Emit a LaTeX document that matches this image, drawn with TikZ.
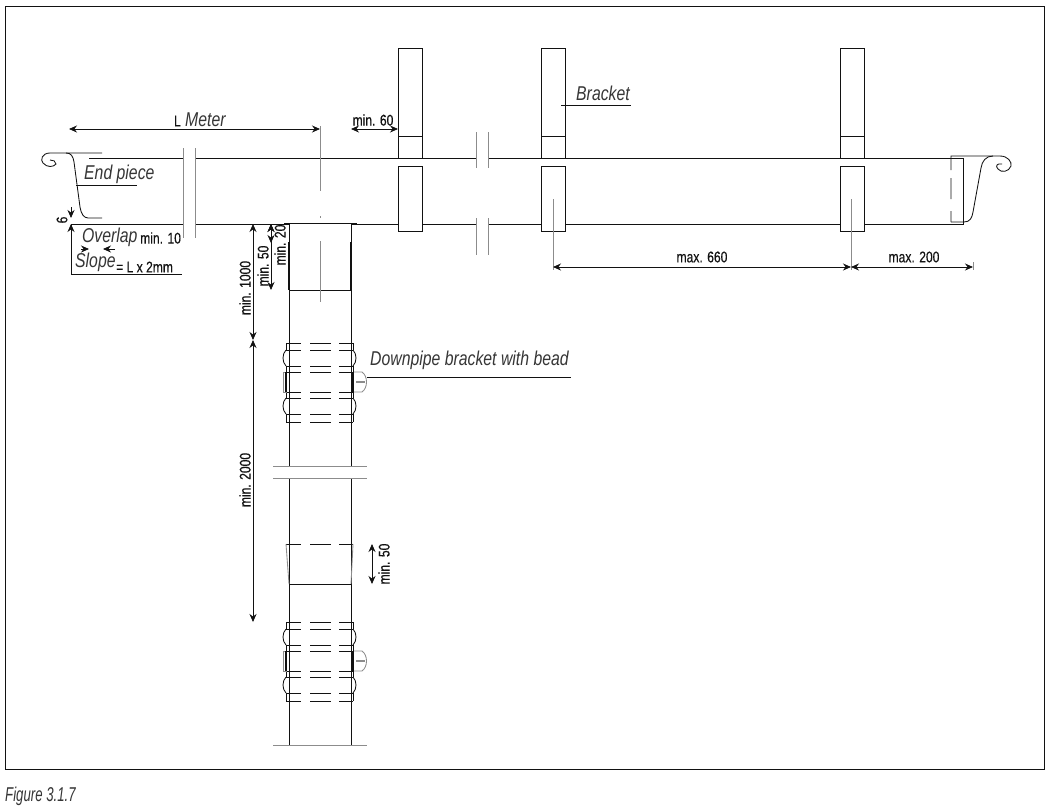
\documentclass[tikz,border=0pt]{standalone}
\usepackage{fontspec}
\setmainfont{Liberation Sans}
\newfontfamily\condup[FakeStretch=0.78,FakeBold=0.35]{Liberation Sans}
\newfontfamily\condit[FakeStretch=0.79]{Liberation Sans Italic}
\newfontfamily\capit[FakeStretch=0.66]{Liberation Sans Italic}
\usetikzlibrary{arrows.meta}
\definecolor{ink}{gray}{0.07}
\definecolor{greyline}{gray}{0.55}
\tikzset{
  bl/.style={draw=ink,line width=0.85pt},
  gl/.style={draw=greyline,line width=0.85pt},
  thk/.style={draw=ink,line width=1.6pt},
  dimline/.style={draw=ink,line width=0.85pt,{Stealth[length=8pt,width=7pt]}-{Stealth[length=8pt,width=7pt]}},
  tip/.style={draw=ink,line width=0.85pt,-{Stealth[length=8pt,width=7pt]}},
  dimtxt/.style={text=ink,inner sep=0pt,font=\condup\fontsize{15.5}{17}\selectfont},
  itatxt/.style={text=ink!85,inner sep=0pt,font=\condit\fontsize{20}{22}\selectfont},
  captxt/.style={text=ink!85,inner sep=0pt,font=\capit\fontsize{20}{22}\selectfont},
  dashband/.style={bl,dash pattern=on 15pt off 9pt on 21pt off 8pt on 15pt},
}
\newcommand{\clipband}[1]{%
  \begin{scope}[yshift=-#1pt]
    \foreach \yy in {343,350,366,372,392,398,414,422}
      \draw[dashband] (286,\yy) -- (353,\yy);
    \draw[bl] (286,343) -- (286,350) (353,343) -- (353,350)
              (286,366) -- (286,372) (353,366) -- (353,372)
              (286,392) -- (286,398) (353,392) -- (353,398)
              (286,414) -- (286,422) (353,414) -- (353,422);
    \draw[bl] (286,350) .. controls (282,354) and (282,362) .. (286,366);
    \draw[bl] (353,350) .. controls (357,354) and (357,362) .. (353,366);
    \draw[bl] (286,398) .. controls (282,402) and (282,410) .. (286,414);
    \draw[bl] (353,398) .. controls (357,402) and (357,410) .. (353,414);
    \draw[gl] (287,372) -- (283,372) -- (283,392) -- (287,392);
    \draw[thk] (286,372) -- (286,392) (353,372) -- (353,392);
    \draw[gl] (354,372) -- (362,372) .. controls (368,376) and (368,388) .. (362,392) -- (354,392);
    \draw[draw=greyline,line width=2pt] (356,382) -- (365,382);
  \end{scope}}
\begin{document}
\begin{tikzpicture}[x=1pt,y=-1pt]
\useasboundingbox (0,0) rectangle (1050,809);
\fill[white] (0,0) rectangle (1050,809);
% frame
\draw[bl] (5,6) rectangle (1044,769);
\node[captxt,anchor=west] (cap) at (5,796) {Figure 3.1.7};
% gutter
\draw[bl] (89,158) -- (183,158) (195,158) -- (476,158) (488,158) -- (963,158) -- (963,224) -- (488,224)
          (476,224) -- (195,224) (183,224) -- (71,224) -- (71,274) -- (182,274);
% breaks
\draw[gl] (183,148) -- (183,238) (195,148) -- (195,238);
\draw[gl] (476,132) -- (476,168) (488,132) -- (488,168)
          (476,218) -- (476,255) (488,218) -- (488,255);
% left end piece
\draw[bl] (102,153) -- (50,153) .. controls (42,153) and (40,160) .. (43,163)
          .. controls (47,168) and (54,167) .. (56,164) .. controls (56,161) and (53,160) .. (50,160);
\draw[bl] (66,153) .. controls (71,153) and (73,156) .. (74,162) -- (80,207)
          .. controls (81,214) and (84,218) .. (88,218) -- (102,218);
\draw[bl] (76,185) -- (137,185);
\node[itatxt,anchor=west] (endp) at (84,174) {End piece};
% right end piece
\draw[bl] (951,222) -- (951,211) (951,199) -- (951,178) (951,170) -- (951,156) -- (1000,156)
          .. controls (1008,156) and (1012,162) .. (1011,166)
          .. controls (1009,172) and (1001,173) .. (998,169)
          .. controls (995,166) and (997,163) .. (1002,164);
\draw[bl] (951,222) -- (964,222) .. controls (970,222) and (972,218) .. (973,212)
          -- (981,168) .. controls (982,161) and (986,156) .. (993,156);
% brackets
\foreach \xx/\nm in {398/a,541/b,840/c}{
  \draw[bl,fill=white] (\xx,166) rectangle (\xx+24,231);
  \draw[bl] (\xx,48) rectangle (\xx+24,158);
  \draw[bl] (\xx,136) -- (\xx+24,136);
}
\draw[bl] (561,105) -- (631,105);
\node[itatxt,anchor=west] (brk) at (576,93) {Bracket};
% downpipe
\fill[white] (289,223) rectangle (351,290);
\draw[bl] (284,223) -- (357,223);
\draw[bl] (289,223) -- (289,466) (351,223) -- (351,466)
          (289,478) -- (289,745) (351,478) -- (351,745);
\draw[thk] (289,242) -- (289,290) (351,242) -- (351,290);
\draw[bl] (289,290) -- (351,290);
\draw[gl] (273,466) -- (367,466) (273,478) -- (367,478) (273,745) -- (367,745);
% centre and extension lines
\draw[gl] (320,126) -- (320,191) (320,216) -- (320,218) (320,241) -- (320,302);
\draw[gl] (553,199) -- (553,270) (851,199) -- (851,270) (973,262) -- (973,270);
% socket
\draw[dashband] (286,544) -- (353,544);
\draw[gl] (286,544) -- (289,584) (353,544) -- (351,584);
\draw[bl] (289,584) -- (351,584);
% pipe clips
\clipband{0}
\clipband{279}
\draw[bl] (367,377) -- (571,377);
\node[itatxt,anchor=west] (dpb) at (370,360) {Downpipe bracket with bead};
% dimensions
\draw[dimline] (69,129) -- (320,129);
\node[dimtxt,anchor=east] (ll) at (181,121) {L};
\node[itatxt,anchor=west] (mt) at (185,120) {Meter};
\draw[dimline] (351,129) -- (398,129);
\node[dimtxt] (m60) at (373,120) {min. 60};
\draw[dimline] (553,267) -- (851,267);
\node[dimtxt] (m660) at (702,257) {max. 660};
\draw[dimline] (851,267) -- (973,267);
\node[dimtxt] (m200) at (914,257) {max. 200};
\draw[dimline] (253,224) -- (253,340);
\draw[dimline] (253,340) -- (253,622);
\node[dimtxt,rotate=90] (m1000) at (245,288) {min. 1000};
\node[dimtxt,rotate=90] (m2000) at (245,480) {min. 2000};
\draw[dimline] (271,224) -- (271,290);
\draw[dimline] (271,224) -- (271,243);
\node[dimtxt,rotate=90] (m50a) at (263,266) {min. 50};
\node[dimtxt,rotate=90] (m20) at (280,245) {min. 20};
\draw[dimline] (372,544) -- (372,584);
\node[dimtxt,rotate=90] (m50b) at (384,564) {min. 50};
% six
\draw[tip] (71,207) -- (71,218);
\draw[tip] (71,236) -- (71,224);
\node[dimtxt,rotate=90] (six) at (62,220) {6};
% overlap / slope
\node[itatxt,anchor=west] (ovl) at (82,237) {Overlap};
\node[dimtxt,anchor=west] (m10) at (140,238) {min. 10};
\draw[tip] (81,249) -- (89,249);
\draw[tip] (115,249) -- (103,249);
\node[itatxt,anchor=west] (slp) at (75,262) {Slope};
\node[dimtxt,anchor=west] (eq) at (116,267) {= L x 2mm};
\end{tikzpicture}
\end{document}
